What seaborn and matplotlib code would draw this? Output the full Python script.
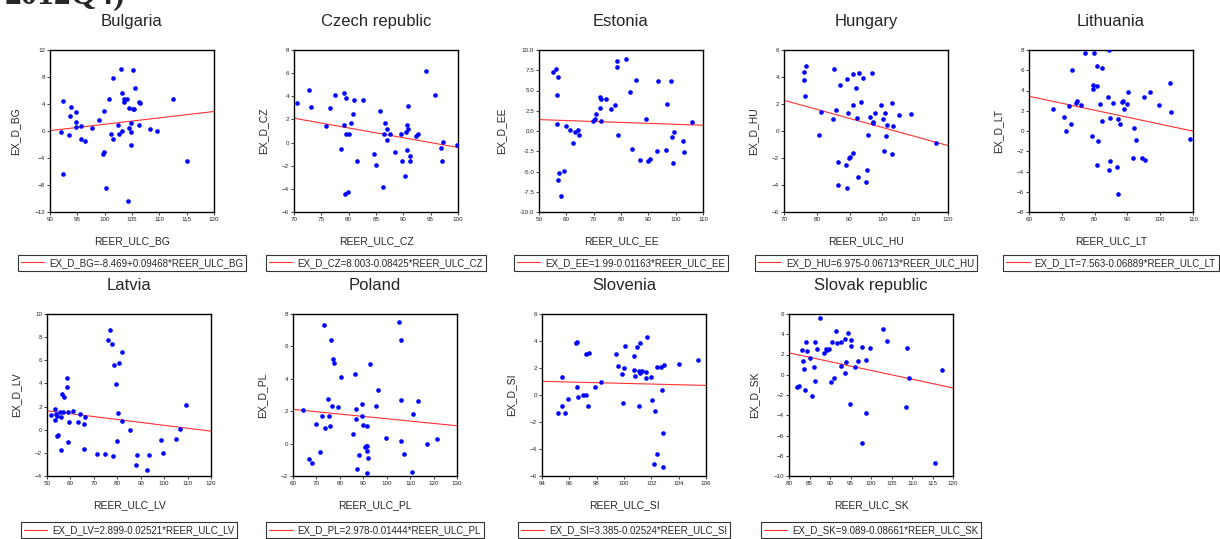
import numpy as np
import pandas as pd
import matplotlib
matplotlib.use("Agg")
import matplotlib.pyplot as plt
import seaborn as sns

# --- datos ---
bg_x = [91.96, 92.45, 92.45, 93.5, 93.7, 93.9, 94.8, 94.7, 94.8, 95.6, 95.6, 96.4, 97.6, 99.0, 99.7, 99.9,
        99.9, 100.3, 100.8, 101.2, 101.5, 101.6, 102.4, 102.7, 103.0, 103.2, 103.2, 103.5, 103.6, 104.0,
        104.2, 104.4, 104.4, 104.75, 104.8, 104.8, 105.1, 105.2, 105.3, 105.5, 106.2, 106.3, 106.5,
        108.3, 109.5, 112.5, 115.1]
bg_y = [-0.15, 4.43, -6.4, -0.65, 2.2, 3.5, 2.8, 1.35, 0.55, 0.8, -1.2, -1.55, 0.4, 1.6, -3.4, -3.15,
        2.9, -8.5, 4.8, -0.4, 7.9, -1.2, 0.85, -0.4, 9.15, 5.6, -0.05, 4.7, 4.3, 4.75,
        -10.4, 3.4, 0.5, -0.2, 1.25, -2.05, 3.3, 9.05, 3.2, 6.4, 4.35, 0.9, 4.2,
        0.3, 0.0, 4.7, -4.4]

cz_x = [70.6, 72.7, 73.1, 75.85, 76.5, 77.5, 78.6, 79.1, 79.2, 79.45, 79.45, 79.3, 79.8, 80.0, 80.5, 80.85,
        81.0, 81.5, 82.6, 84.6, 85.0, 85.7, 86.2, 86.5, 86.7, 86.95, 87.1, 87.55, 88.5, 89.6, 89.7,
        90.3, 90.4, 90.6, 90.7, 90.9, 90.9, 91.3, 91.3, 92.25, 92.75, 94.15, 95.85, 96.8, 97.1, 97.3, 99.75]
cz_y = [3.4, 4.5, 3.1, 1.45, 3.0, 4.15, -0.55, 4.3, 1.55, 3.85, 0.7, -4.45, -4.25, 0.7, 1.7, 2.5,
        3.65, -1.55, 3.65, -1.0, -1.9, 2.7, -3.85, 0.7, 1.65, 0.2, 1.15, 0.7, -0.85, 0.7, -1.55,
        -2.9, 0.9, 1.55, -0.6, 1.15, 3.15, -1.15, -1.55, 0.6, 0.75, 6.15, 4.15, -0.45, -1.55, 0.05, -0.25]

ee_x = [55.1, 56.3, 57.0, 56.5, 56.5, 57.1, 57.2, 58.2, 59.3, 59.9, 61.2, 62.3, 63.0, 64.3, 64.5, 69.6,
        70.4, 71.0, 72.2, 72.3, 72.6, 72.7, 74.4, 76.3, 77.7, 78.5, 78.7, 78.8, 82.0, 83.2, 84.0, 85.4,
        86.8, 89.15, 90.0, 90.6, 93.2, 93.7, 96.3, 96.95, 98.2, 98.8, 99.0, 99.5, 102.8, 103.2, 105.9]
ee_y = [7.3, 7.6, 6.7, 4.45, 0.9, -6.05, -5.2, -8.05, -4.95, 0.65, 0.15, -1.5, -0.15, 0.15, -0.55, 1.2,
        1.45, 2.05, 2.8, 4.25, 3.95, 1.25, 3.9, 2.75, 3.2, 8.6, 7.85, -0.5, 8.85, 4.85, -2.2, 6.25,
        -3.6, 1.45, -3.7, -3.5, -2.5, 6.2, -2.35, 3.3, 6.15, -0.75, -3.95, -0.1, -1.2, -2.55, 1.1]

hu_x = [76.0, 76.6, 76.0, 76.5, 80.8, 81.3, 84.8, 85.3, 85.8, 86.6, 86.5, 87.2, 89.0, 89.2, 89.3, 89.6,
        89.8, 90.2, 90.9, 90.9, 91.0, 92.1, 92.2, 92.9, 92.7, 93.4, 94.2, 95.1, 95.3, 95.6, 96.3, 96.7,
        97.0, 97.1, 97.7, 99.7, 100.3, 100.4, 100.9, 101.0, 101.5, 102.8, 102.9, 103.1, 105.2, 108.8, 116.3]
hu_y = [4.4, 4.83, 3.8, 2.6, -0.3, 1.4, 0.9, 4.58, 1.55, -2.3, -4.0, 3.4, -2.5, 3.85, -4.25, 1.37,
        -2.0, -1.9, 4.2, -1.65, 1.9, 3.2, 1.0, 4.33, -3.4, 2.15, 3.9, -3.8, -2.9, -0.27, 1.07, 4.33,
        0.57, 0.67, 1.35, 1.9, 0.87, -1.5, 1.35, -0.4, 0.42, 2.07, -1.7, 0.35, 1.22, 1.25, -0.87]

lt_x = [67.3, 70.8, 71.4, 72.2, 72.7, 73.1, 74.4, 74.7, 75.8, 77.0, 79.3, 79.4, 79.6, 79.7, 80.7, 80.8,
        80.8, 81.0, 81.7, 82.2, 82.4, 84.1, 84.3, 84.4, 84.7, 84.8, 85.5, 86.9, 87.0, 87.1, 87.8, 88.3,
        88.6, 88.9, 89.8, 90.2, 91.7, 91.9, 92.5, 94.4, 95.1, 95.3, 96.9, 99.6, 102.9, 103.3, 109.0]
lt_y = [2.13, 1.4, 0.0, 2.5, 0.67, 6.0, 2.8, 3.0, 2.6, 7.74, -0.47, 4.58, 4.15, 7.67, -3.36, 6.38,
        4.42, -0.96, 2.66, 6.25, 0.96, 3.39, 7.97, -3.85, 1.3, -2.99, 2.72, -3.52, -6.21, 1.2, 0.73, 2.82,
        2.96, 2.2, 2.66, 3.89, -2.69, 0.3, -0.86, -2.62, 3.32, -2.86, 3.85, 2.52, 4.75, 1.86, -0.76]

lv_x = [51.7, 53.4, 53.4, 53.8, 54.3, 54.3, 54.6, 55.4, 55.8, 56.1, 56.4, 56.97, 57.25, 58.5, 58.7, 59.1,
        59.0, 59.5, 61.1, 63.2, 64.2, 65.9, 66.0, 66.3, 71.3, 74.9, 76.1, 76.8, 77.8, 78.1, 78.7, 79.4,
        79.9, 80.3, 80.9, 81.9, 82.0, 85.4, 88.3, 88.1, 92.8, 93.5, 98.6, 99.6, 105.0, 106.9, 109.5]
lv_y = [1.29, 1.77, 0.8, 1.34, 1.2, -0.57, -0.46, 1.57, -1.71, 1.11, 3.09, 1.54, 2.83, 4.49, 3.66, 1.57,
        -1.09, 0.63, 1.63, 0.66, 1.4, 0.46, -1.69, 1.06, -2.06, -2.11, 7.77, 8.6, 7.37, -2.31, 5.6, 3.94,
        -0.97, 1.46, 5.74, 0.74, 6.71, -0.03, -2.17, -3.06, -3.46, -2.17, -0.86, -1.97, -0.8, 0.09, 2.11]

pl_x = [64.1, 67.0, 68.0, 69.9, 71.4, 72.3, 73.2, 73.7, 74.8, 75.2, 75.6, 76.1, 76.6, 76.9, 77.5, 79.4,
        80.6, 85.4, 86.6, 87.0, 87.0, 87.5, 88.3, 89.4, 89.4, 90.0, 90.6, 91.0, 91.4, 91.4, 91.4, 91.7,
        91.8, 92.7, 95.4, 96.3, 99.9, 105.1, 106.1, 106.1, 106.3, 107.2, 110.7, 111.3, 113.4, 117.0, 121.5]
pl_y = [2.08, -0.92, -1.2, 1.22, -0.53, 1.71, 7.31, 0.98, 2.78, 1.71, 1.1, 6.39, 2.33, 5.2, 5.0, 2.29,
        4.12, 0.61, 4.31, 2.16, 1.53, -1.57, -0.71, 2.45, 1.73, 1.16, -0.18, -0.16, -1.82, -0.16, 1.08, -0.43,
        -0.88, 4.9, 2.31, 3.33, 0.35, 7.51, 0.14, 2.71, 6.37, -0.65, -1.73, 1.8, 2.65, -0.04, 0.29]

si_x = [95.16, 95.45, 95.48, 95.67, 95.87, 96.47, 96.57, 96.57, 96.6, 96.99, 97.22, 97.25, 97.37, 97.42,
        97.88, 98.29, 99.45, 99.55, 99.82, 99.92, 100.01, 100.1, 100.73, 100.73, 100.78, 100.93, 101.1,
        101.12, 101.15, 101.17, 101.3, 101.6, 101.64, 101.68, 102.0, 102.07, 102.22, 102.24, 102.38,
        102.44, 102.7, 102.75, 102.82, 102.82, 102.9, 104.04, 105.44]
si_y = [-1.3, 1.32, -0.83, -1.3, -0.27, 3.85, 3.92, 0.61, -0.15, 0.02, 3.01, 0.02, -0.81, 3.13,
        0.59, 0.96, 3.01, 2.16, 1.57, -0.56, 2.03, 3.62, 2.87, 1.86, 1.4, 3.53, -0.83,
        1.79, 3.82, 1.64, 1.81, 1.27, 1.71, 4.31, 1.32, -0.39, -5.14, -1.18, -4.36,
        2.08, 2.08, 0.39, -2.82, -5.34, 2.2, 2.3, 2.6]

sk_x = [81.95, 82.44, 83.25, 83.5, 83.6, 83.9, 84.23, 84.47, 85.2, 85.6, 86.1, 86.34, 86.42, 86.9, 87.64,
        88.54, 88.94, 89.2, 89.84, 90.24, 90.4, 90.98, 91.54, 91.63, 92.6, 92.76, 93.58, 93.74, 93.82,
        94.47, 94.88, 95.04, 95.04, 96.18, 96.83, 97.72, 97.72, 98.78, 98.86, 99.84, 103.0, 103.82,
        108.6, 108.86, 109.35, 115.7, 117.4]
sk_y = [-1.2, -1.12, 2.41, 1.36, 0.58, -1.51, 3.26, 2.31, 1.63, -2.1, 0.8, 3.26, -0.57, 2.53, 5.64,
        2.11, 2.53, 2.43, 2.5, -0.7, 3.22, -0.34, 4.37, 3.15, 3.28, 0.87, 0.19, 3.54, 1.25,
        4.17, -2.89, 2.86, 3.41, 0.74, 1.36, -6.78, 2.73, -3.81, 1.43, 2.67, 4.5, 3.29,
        -3.23, 2.66, -0.31, -8.74, 0.48]

paises = ["Bulgaria", "Czech republic", "Estonia", "Hungary", "Lithuania",
          "Latvia", "Poland", "Slovenia", "Slovak republic"]
codigos = ["BG", "CZ", "EE", "HU", "LT", "LV", "PL", "SI", "SK"]
datos_x = [bg_x, cz_x, ee_x, hu_x, lt_x, lv_x, pl_x, si_x, sk_x]
datos_y = [bg_y, cz_y, ee_y, hu_y, lt_y, lv_y, pl_y, si_y, sk_y]

# coeficientes de la regresion (intercepto, pendiente) tal como aparecen en la leyenda
intercepto = [-8.469, 8.003, 1.99, 6.975, 7.563, 2.899, 2.978, 3.385, 9.089]
pendiente = [0.09468, -0.08425, -0.01163, -0.06713, -0.06889, -0.02521, -0.01444, -0.02524, -0.08661]
textos_ecuacion = ["-8.469+0.09468", "8.003-0.08425", "1.99-0.01163", "6.975-0.06713", "7.563-0.06889",
                   "2.899-0.02521", "2.978-0.01444", "3.385-0.02524", "9.089-0.08661"]

# rangos de los ejes
rango_x = [(90, 120), (70, 100), (50, 110), (70, 120), (60, 110), (50, 120), (60, 130), (94, 106), (80, 120)]
rango_y = [(-12, 12), (-6, 8), (-10, 10), (-6, 6), (-8, 8), (-4, 10), (-2, 8), (-6, 6), (-10, 6)]
ticks_x = [np.arange(90, 121, 5), np.arange(70, 101, 5), np.arange(50, 111, 10), np.arange(70, 121, 10),
           np.arange(60, 111, 10), np.arange(50, 121, 10), np.arange(60, 131, 10), np.arange(94, 107, 2),
           np.arange(80, 121, 5)]
ticks_y = [np.arange(-12, 13, 4), np.arange(-6, 9, 2), np.arange(-10, 11, 2.5), np.arange(-6, 7, 2),
           np.arange(-8, 9, 2), np.arange(-4, 11, 2), np.arange(-2, 9, 2), np.arange(-6, 7, 2),
           np.arange(-10, 7, 2)]

sns.set_style("ticks")
plt.rcParams["font.family"] = ["Liberation Sans", "DejaVu Sans"]

W, H = 1220, 539
fig = plt.figure(figsize=(W / 100, H / 100), dpi=100)

# posiciones en pixeles (izquierda, arriba)
pos = [(50, 50), (294, 50), (539, 50), (784, 50), (1029, 50),
       (47, 314), (293, 314), (542, 314), (789, 314)]
ancho, alto = 164, 162

for i in range(9):
    izq, arr = pos[i]
    ax = fig.add_axes([izq / W, 1 - (arr + alto) / H, ancho / W, alto / H])
    c = codigos[i]
    df = pd.DataFrame({"x": datos_x[i], "y": datos_y[i]})
    sns.scatterplot(data=df, x="x", y="y", ax=ax, color="#0000ff", s=11, linewidth=0, zorder=3)

    xs = np.array(rango_x[i], dtype=float)
    linea = pd.DataFrame({"x": xs, "y": intercepto[i] + pendiente[i] * xs})
    etiqueta = f"EX_D_{c}={textos_ecuacion[i]}*REER_ULC_{c}"
    sns.lineplot(data=linea, x="x", y="y", ax=ax, color="#ff3030", linewidth=0.8, label=etiqueta)

    ax.set_xlim(rango_x[i])
    ax.set_ylim(rango_y[i])
    ax.set_xticks(ticks_x[i])
    ax.set_yticks(ticks_y[i])
    if i == 2:
        ax.set_yticklabels([f"{v:.1f}" for v in ticks_y[i]])
    ax.tick_params(labelsize=4.5, length=2, width=0.6, pad=1.5, direction="out")
    for sp in ax.spines.values():
        sp.set_linewidth(1.0)
        sp.set_color("black")

    ax.set_title(paises[i], fontsize=12, pad=17)
    ax.set_xlabel(f"REER_ULC_{c}", fontsize=7.5, labelpad=10)
    ax.set_ylabel(f"EX_D_{c}", fontsize=7.5, labelpad=10)

    ley = ax.legend(loc="upper center", bbox_to_anchor=(0.5, -0.235 if i < 5 else -0.255),
                    fontsize=7, frameon=True, fancybox=False, handlelength=2.4,
                    borderpad=0.3, handletextpad=0.5)
    ley.get_frame().set_edgecolor("black")
    ley.get_frame().set_linewidth(0.8)

# titulo cortado arriba
fig.text(5 / W, 1 - 4 / H, "2012Q4)", fontsize=24, fontweight="bold",
         family="Liberation Serif", va="baseline", ha="left")

plt.savefig("out.png", dpi=100)
